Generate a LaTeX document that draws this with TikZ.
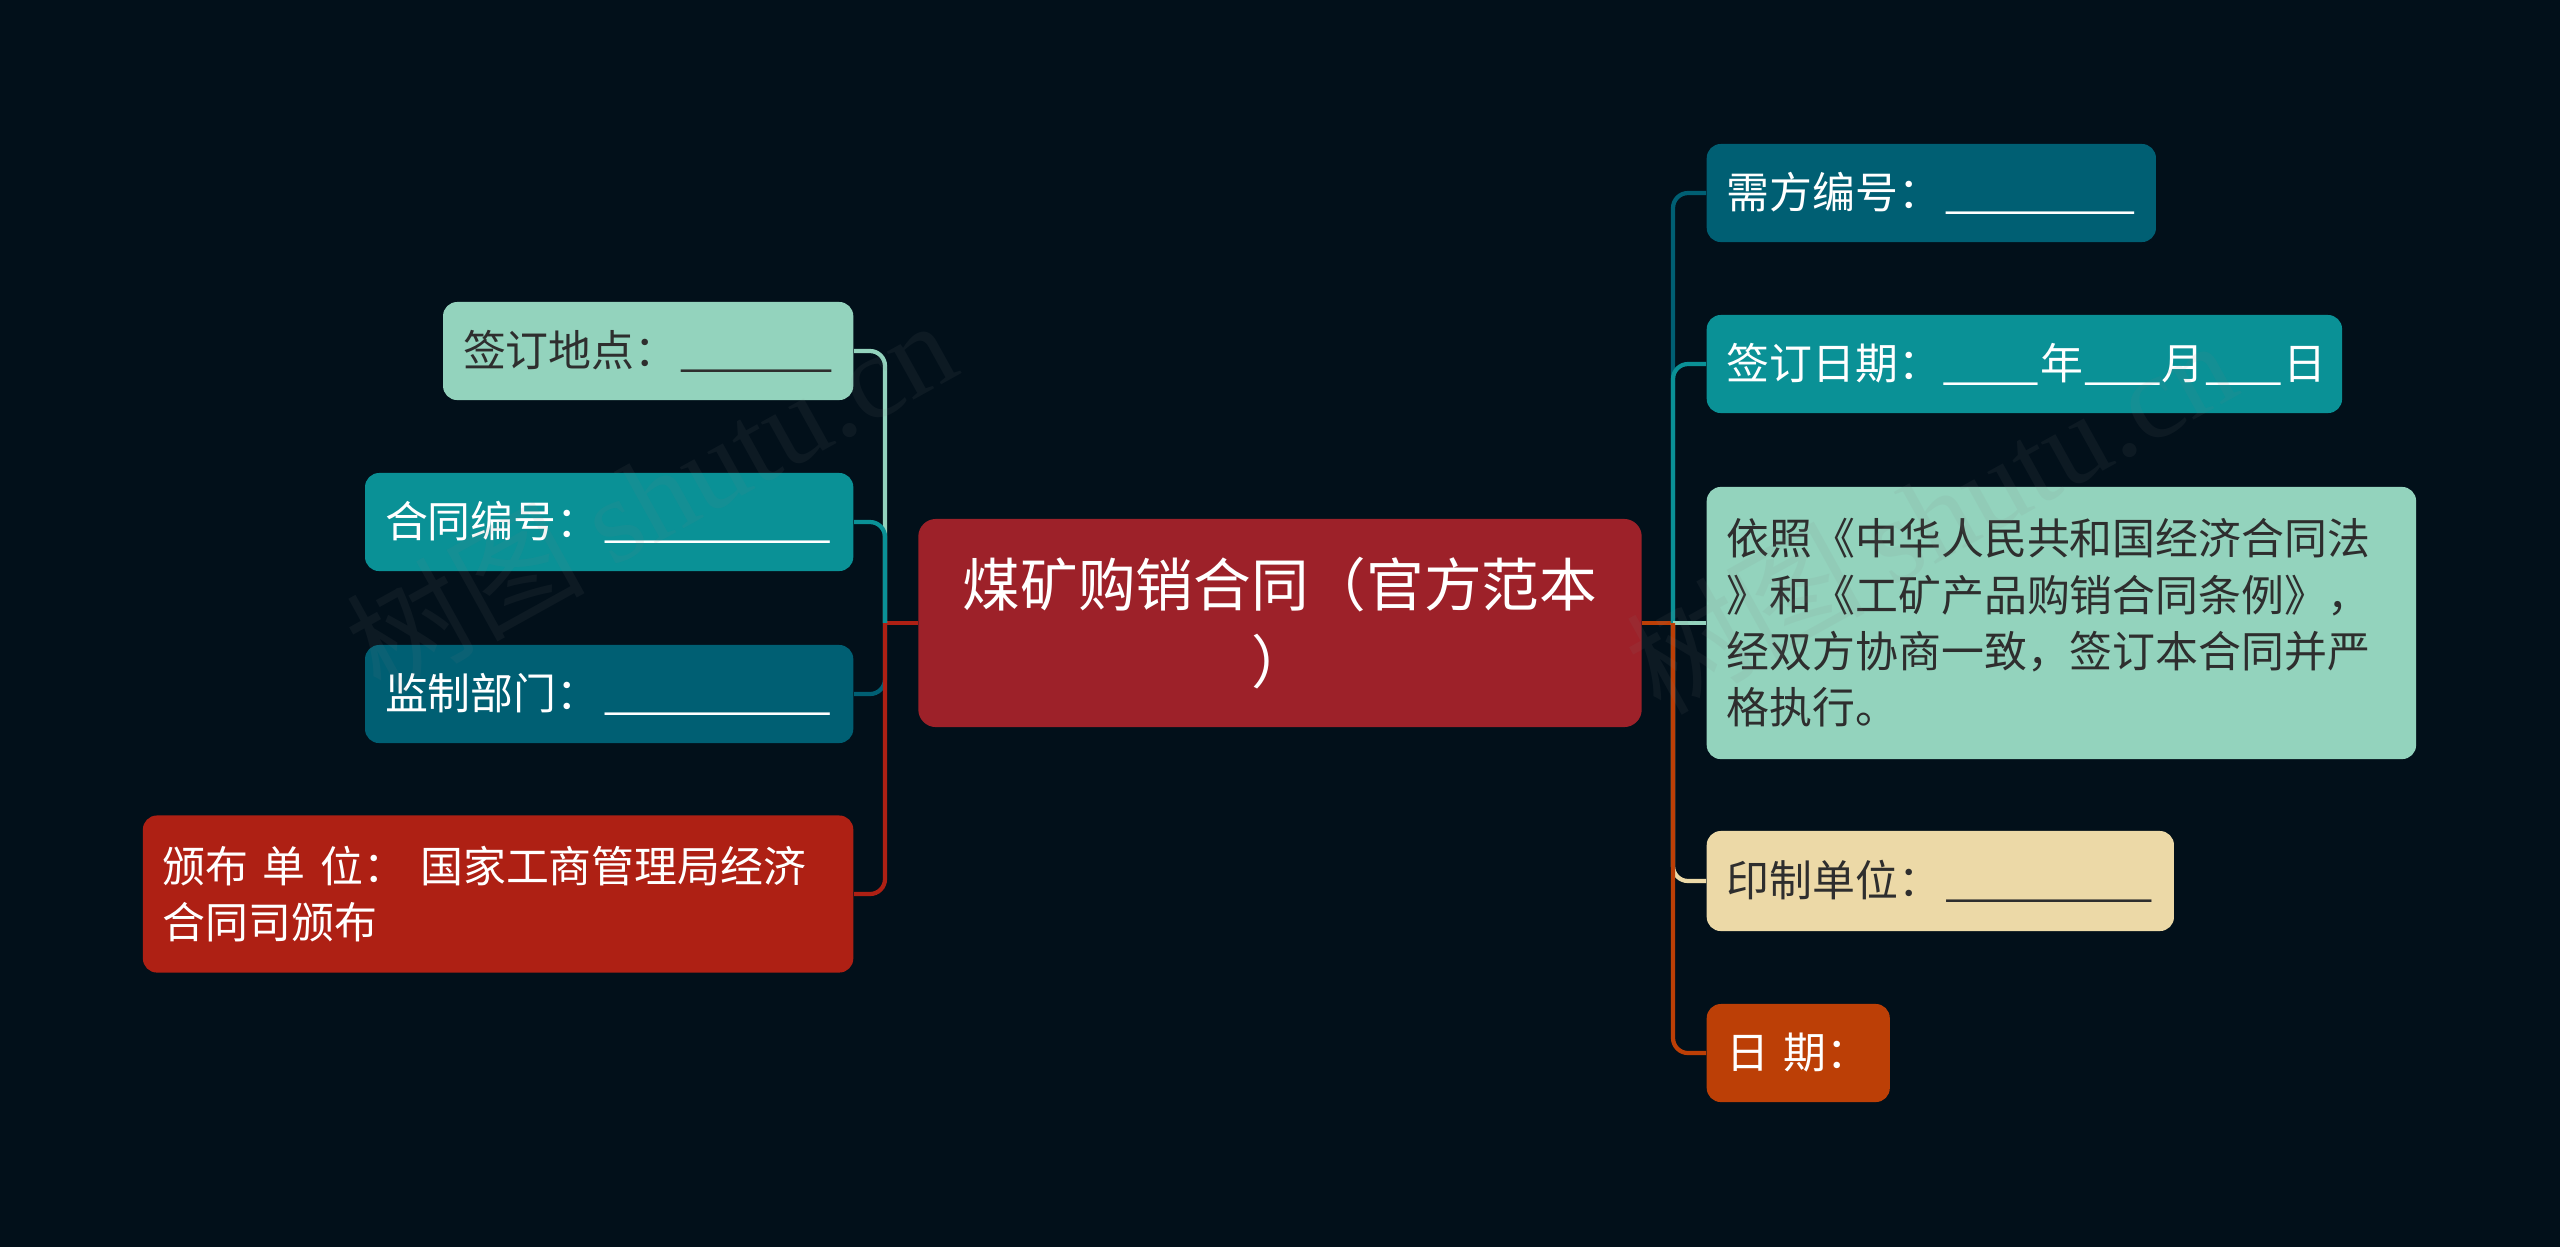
\documentclass[tikz,border=0pt]{standalone}
\usepackage{fontspec}
\setmainfont{Noto Sans CJK SC}
\newfontfamily\wmfont{Liberation Serif}
\usepackage{graphicx}
\usepackage{tikz}
\usetikzlibrary{positioning}
\definecolor{cnavy}{HTML}{02101A}
\definecolor{cmint}{HTML}{93D3BD}
\definecolor{cteal}{HTML}{0A9196}
\definecolor{cdeep}{HTML}{005F73}
\definecolor{cred}{HTML}{AE2014}
\definecolor{ccrimson}{HTML}{9D2129}
\definecolor{csand}{HTML}{ECD9A7}
\definecolor{camber}{HTML}{BC3F06}
\definecolor{cink}{HTML}{2E2E2E}
\tikzset{
  topic/.style  = {rounded corners=4pt, inner xsep=0.2cm, inner ysep=0pt,
                   align=left, font=\fontsize{12.2}{16}\selectfont},
  tmint/.style  = {topic, fill=cmint, text=cink},
  tteal/.style  = {topic, fill=cteal, text=white},
  tdeep/.style  = {topic, fill=cdeep, text=white},
  tred/.style   = {topic, fill=cred, text=white},
  tsand/.style  = {topic, fill=csand, text=cink},
  tamber/.style = {topic, fill=camber, text=white},
  root/.style   = {rounded corners=5pt, fill=ccrimson, text=white, align=center,
                   inner xsep=0.2cm, text width=6.83cm, minimum height=2.08cm,
                   font=\fontsize{16.4}{22}\selectfont},
  link/.style   = {line width=1.2pt, rounded corners=0.15cm},
  wm/.style     = {text=gray, text opacity=0.09, font=\fontsize{34}{34}\selectfont}
}
% one underscore stretched to the length of the blank
\newcommand{\blank}[1]{\scalebox{#1}[1]{\_}}

\begin{document}
\begin{tikzpicture}[x=0.01cm, y=-0.01cm]
  \fill[cnavy] (0,0) rectangle (2560,1247);
  \useasboundingbox (0,0) rectangle (2560,1247);

  \node[root] (coal) at (1280,623) {煤矿购销合同（官方范本\\）};

  % left side
  \node[tmint, anchor=east, text width=3.70cm, minimum height=0.98cm] (place)
    at (854,351) {\mbox{签订地点：\blank{6.6}}};
  \node[tteal, anchor=east, text width=4.48cm, minimum height=0.98cm] (cno)
    at (854,522) {\mbox{合同编号：\blank{9.87}}};
  \node[tdeep, anchor=east, text width=4.48cm, minimum height=0.98cm] (sup)
    at (854,694) {\mbox{监制部门：\blank{9.87}}};
  \node[tred,  anchor=east, text width=6.70cm, minimum height=1.57cm] (issuer)
    at (854,894) {颁布 单 位：  国家工商管理局经济\\合同司颁布};

  % right side
  \node[tdeep, anchor=west, text width=4.09cm, minimum height=0.98cm] (buyer)
    at (1706,193) {\mbox{需方编号：\blank{8.26}}};
  \node[tteal, anchor=west, text width=5.95cm, minimum height=0.98cm] (signdate)
    at (1706,364) {\mbox{签订日期：\blank{4.13}年\blank{3.28}月\blank{3.28}日}};
  \node[tmint, anchor=west, text width=6.69cm, minimum height=2.72cm] (basis)
    at (1706,623) {依照《中华人民共和国经济合同法\\》和《工矿产品购销合同条例》，\\经双方协商一致，签订本合同并严\\格执行。};
  \node[tsand, anchor=west, text width=4.27cm, minimum height=1.00cm] (printer)
    at (1706,881) {\mbox{印制单位：\blank{9.0}}};
  \node[tamber, anchor=west, text width=1.43cm, minimum height=0.98cm] (day)
    at (1706,1053) {\mbox{日 期：}};

  \coordinate (lhub) at (885,623);
  \coordinate (rhub) at (1673,623);

  \draw[link, cred]   (coal.west) -- (lhub);
  \draw[link, cmint]  (lhub) |- (place.east);
  \draw[link, cteal]  (lhub) |- (cno.east);
  \draw[link, cdeep]  (lhub) |- (sup.east);
  \draw[link, cred]   (lhub) |- (issuer.east);

  \draw[link, camber] (coal.east) -- (rhub);
  \draw[link, cdeep]  (rhub) |- (buyer.west);
  \draw[link, cteal]  (rhub) |- (signdate.west);
  \draw[link, cmint]  (rhub) -- (basis.west);
  \draw[link, csand]  (rhub) |- (printer.west);
  \draw[link, camber] (rhub) |- (day.west);

  % watermarks
  \node[wm, rotate=29] (wmleft)  at (650,495)  {树图 {\wmfont shutu.cn}};
  \node[wm, rotate=29] (wmright) at (1930,515) {树图 {\wmfont shutu.cn}};
\end{tikzpicture}
\end{document}
